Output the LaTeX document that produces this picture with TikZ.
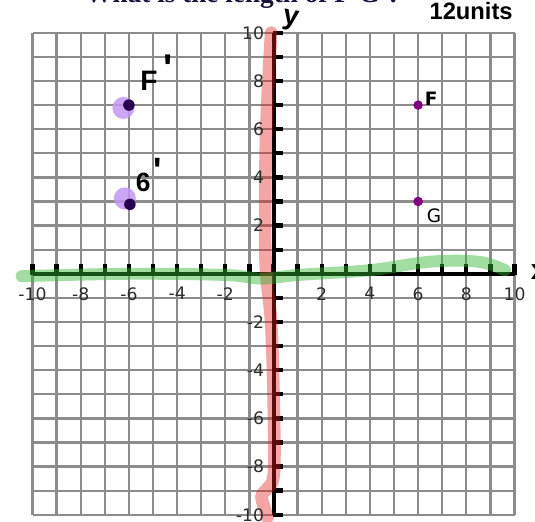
\documentclass[tikz,border=0pt]{standalone}
\usepackage{fontspec}
\setmainfont{DejaVu Sans}
\newfontfamily\titlefont{Liberation Serif}
\newfontfamily\handfont{Liberation Sans}
\definecolor{gridgray}{RGB}{140,140,140}
\definecolor{numgray}{RGB}{45,45,45}
\definecolor{hlgreen}{RGB}{50,180,50}
\definecolor{hlred}{RGB}{230,30,30}
\definecolor{ptpurple}{RGB}{128,0,128}
\definecolor{ptdark}{RGB}{40,0,80}
\definecolor{pthalo}{RGB}{195,150,245}
\definecolor{titleblue}{RGB}{20,20,60}
\begin{document}
\begin{tikzpicture}[x=0.482cm,y=0.482cm,
  gridline/.style={draw=gridgray, line width=1.3pt},
  axisline/.style={line width=2.3pt, draw=black},
  tickmark/.style={fill=black},
  numlbl/.style={font=\fontsize{9.8}{10}\selectfont, text=numgray, inner sep=0pt},
  ptlbl/.style={font=\fontsize{10.5}{11}\selectfont, text=black, inner sep=0pt},
  dotnode/.style={circle, fill=ptpurple, minimum size=0.19cm, inner sep=0pt},
  darkdot/.style={circle, fill=ptdark, minimum size=0.23cm, inner sep=0pt},
  halo/.style={circle, fill=pthalo, minimum size=0.44cm, inner sep=0pt},
  handlbl/.style={font=\handfont\bfseries, text=black, inner sep=0pt},
  greenhl/.style={draw=hlgreen, opacity=0.45, line width=6.8pt, line cap=round, line join=round},
  redhl/.style={draw=hlred, opacity=0.4, line width=7.2pt, line cap=round, line join=round}
]
\useasboundingbox (-11.35,-10.26) rectangle (10.85,11.36);
\fill[white] (-11.35,-10.26) rectangle (10.85,11.36);

% grid
\draw[gridline, step=0.482cm] (-10,-10) grid (10,10);

% axes
\coordinate (ybot) at (0,-10);
\coordinate (ytop) at (0,10);
\coordinate (xleft) at (-10,0);
\coordinate (xright) at (10,0);
\draw[axisline] (ybot) -- (ytop);
\draw[axisline] (xleft) -- (xright);
\foreach \i in {-10,...,10} {
  \fill[tickmark] (-0.04,\i-0.09) rectangle (0.38,\i+0.09);
  \fill[tickmark] (\i-0.09,-0.04) rectangle (\i+0.09,0.42);
}

% highlights
\draw[redhl] plot[smooth, tension=0.6] coordinates {(-0.1,10) (-0.3,6) (-0.35,2) (-0.3,0) (-0.1,-2) (0,-5) (0.02,-8.2) (-0.25,-8.9) (-0.5,-9.2) (-0.35,-9.8) (-0.25,-10.1)};
\draw[greenhl] plot[smooth, tension=0.6] coordinates {(-10.45,-0.1) (-6,0) (-2,-0.05) (-0.5,-0.2) (1,-0.05) (4,0.15) (6.5,0.5) (8.5,0.5) (9.6,0.15)};

% axis numbers
\foreach \v in {-10,-8,-6,-4,-2,2,4,6,8,10} {
  \node[numlbl, anchor=east] (ylab\v) at (-0.38,\v) {\v};
  \node[numlbl, anchor=north] (xlab\v) at (\v,-0.55) {\v};
}

% points F and G
\node[dotnode] (F) at (6,7) {};
\node[dotnode] (G) at (6,3) {};
\node[ptlbl, font=\fontsize{10.5}{11}\selectfont\bfseries] (Flbl) at (6.54,7.28) {F};
\node[ptlbl] (Glbl) at (6.66,2.40) {G};

% image points F' and G'
\node[halo, opacity=0.85] (Fhalo) at (-6.23,6.88) {};
\node[darkdot] (Fp) at (-6,7) {};
\node[halo, opacity=0.85] (Ghalo) at (-6.17,3.13) {};
\node[darkdot] (Gp) at (-5.96,2.88) {};
\node[handlbl, font=\handfont\bfseries\fontsize{16}{17}\selectfont] (Fhand) at (-5.17,8.0) {F};
\node[handlbl, font=\handfont\bfseries\fontsize{22}{23}\selectfont] (Fprime) at (-4.38,8.55) {\textquotesingle};
\node[handlbl, font=\handfont\bfseries\fontsize{15}{16}\selectfont] (Ghand) at (-5.41,3.77) {6};
\node[handlbl, font=\handfont\bfseries\fontsize{20}{21}\selectfont] (Gprime) at (-4.79,4.3) {\textquotesingle};

% handwritten axis letters
\node[handlbl, font=\handfont\bfseries\fontsize{16}{17}\selectfont, rotate=-10] (yhand) at (0.7,10.5) {y};
\node[handlbl, font=\handfont\bfseries\fontsize{16}{17}\selectfont] (xhand) at (11.0,0.05) {x};

% title (cut off at top) and handwritten answer
\node[font=\titlefont\bfseries\fontsize{15.5}{17}\selectfont, text=titleblue, anchor=base west, inner sep=0pt] (title) at (-7.82,11.24) {What is the length of F\textquotesingle G\textquotesingle?};
\node[handlbl, font=\handfont\bfseries\fontsize{13.5}{14}\selectfont] (answer) at (8.2,10.92) {12units};
\end{tikzpicture}
\end{document}
